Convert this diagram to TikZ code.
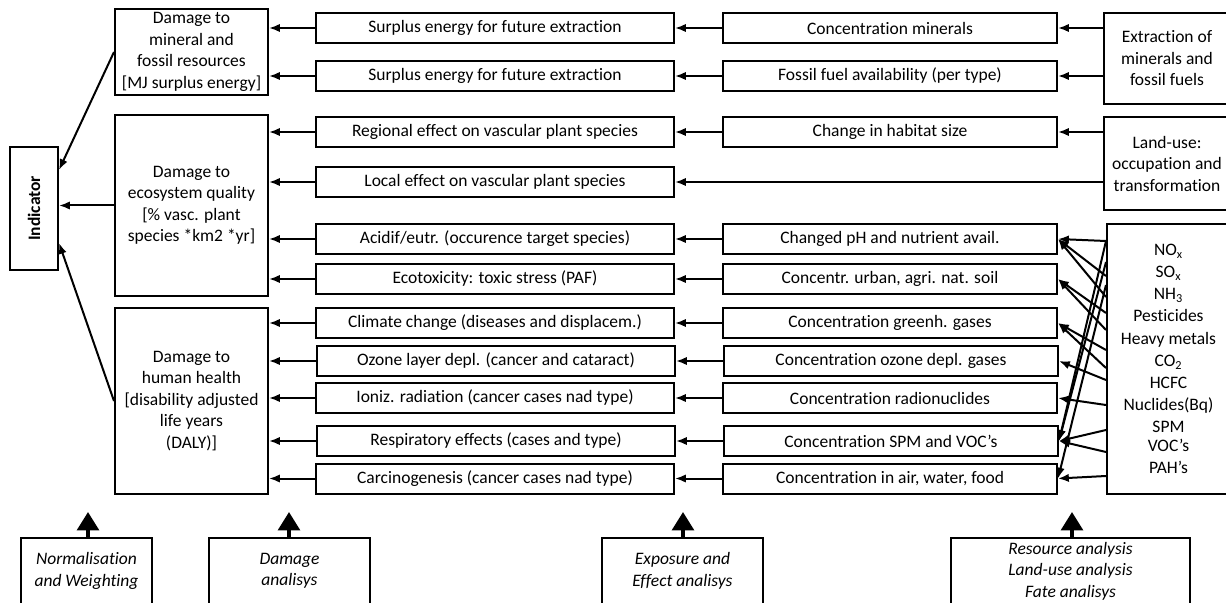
\documentclass[tikz,border=0pt]{standalone}
\usepackage{fontspec}
\setmainfont[Ligatures=NoCommon]{Carlito}
\usetikzlibrary{calc, arrows.meta}
\tikzset{>={Latex[length=6.5pt,width=5pt]}}
\newcommand{\pxu}{0.6pt}
\newcommand{\dfont}{\fontsize{10.5}{12.9}\selectfont}
\tikzset{
  blk/.style={draw, line width=1.2pt, align=center, inner sep=1pt},
  boxdim/.style 2 args={minimum width=#1*\pxu, minimum height=#2*\pxu},
  imp/.style={blk, boxdim={358}{30}},
  cnc/.style={blk, boxdim={334}{30}},
  ana/.style={blk, font=\dfont\itshape},
  lnk/.style={->, line width=1.2pt},
  upar/.style={-{Triangle[width=13pt,length=11pt]}, line width=2.2pt},
}

\begin{document}
\begin{tikzpicture}[x=\pxu, y=-\pxu, font=\dfont]
\useasboundingbox (0,0) rectangle (1226,603);

% indicator and damage categories
\node[blk, boxdim={48}{123}] (ind) at (34,208.5) {};
\node[rotate=90, font=\dfont\bfseries] (indtxt) at (ind) {Indicator};
\node[blk, boxdim={153}{86}] (dmgM) at (191.5,52) {Damage to\\mineral and\\fossil resources\\{}[MJ surplus energy]};
\node[blk, boxdim={153}{181}] (dmgE) at (191.5,205.5) {Damage to\\ecosystem quality\\{}[\% vasc. plant\\species *km2 *yr]};
\node[blk, boxdim={153}{186}] (dmgH) at (191.5,401) {Damage to\\human health\\{}[disability adjusted\\life years\\(DALY)]};

% effects
\node[imp] (s1) at (495,28) {Surplus energy for future extraction};
\node[imp] (s2) at (495,76) {Surplus energy for future extraction};
\node[imp] (s3) at (495,132) {Regional effect on vascular plant species};
\node[imp] (s4) at (495,182) {Local effect on vascular plant species};
\node[imp] (s5) at (495,239) {Acidif/eutr. (occurence target species)};
\node[imp] (s6) at (495,279) {Ecotoxicity: toxic stress (PAF)};
\node[imp] (s7) at (495,323) {Climate change (diseases and displacem.)};
\node[imp] (s8) at (496,361) {Ozone layer depl. (cancer and cataract)};
\node[imp] (s9) at (495,398) {Ioniz. radiation (cancer cases nad type)};
\node[imp] (s10) at (496,441) {Respiratory effects (cases and type)};
\node[imp] (s11) at (495,478.5) {Carcinogenesis (cancer cases nad type)};

% exposure / fate
\node[cnc] (c1) at (890,28) {Concentration minerals};
\node[cnc] (c2) at (890,76) {Fossil fuel availability (per type)};
\node[cnc] (c3) at (890,132) {Change in habitat size};
\node[cnc] (c5) at (890,239) {Changed pH and nutrient avail.};
\node[cnc] (c6) at (890,279) {Concentr. urban, agri. nat. soil};
\node[cnc] (c7) at (890,323) {Concentration greenh. gases};
\node[cnc] (c8) at (891,361) {Concentration ozone depl. gases};
\node[cnc] (c9) at (890,398) {Concentration radionuclides};
\node[cnc] (c10) at (891,441) {Concentration SPM and VOC’s};
\node[cnc] (c11) at (890,478.5) {Concentration in air, water, food};

% sources
\node[blk, boxdim={126}{91}] (ext) at (1167,58.5) {Extraction of\\minerals and\\fossil fuels};
\node[blk, boxdim={126}{93}] (land) at (1167,163.5) {Land-use:\\occupation and\\transformation};
\node[blk, boxdim={123}{270}, font=\fontsize{10.5}{13.3}\selectfont] (emis) at (1168.5,359)
  {NO\textsubscript{x}\\SO\textsubscript{x}\\NH\textsubscript{3}\\Pesticides\\Heavy metals\\CO\textsubscript{2}\\HCFC\\Nuclides(Bq)\\SPM\\[-2pt]VOC’s\\PAH’s};

% analysis steps
\node[ana, boxdim={131}{66}] (nw) at (86.5,571) {Normalisation\\and Weighting};
\node[ana, boxdim={161}{66}] (da) at (289.5,571) {Damage\\analisys};
\node[ana, boxdim={161}{66}] (ea) at (682.5,571) {Exposure and\\Effect analisys};
\node[ana, boxdim={239}{66}] (ra) at (1070.5,571) {Resource analysis\\Land-use analysis\\Fate analisys};
\coordinate (nwtip) at (88,512);
\coordinate (datip) at (289,512);
\coordinate (eatip) at (683,512);
\coordinate (ratip) at (1072,512);

\path[lnk]
(s1.west) edge (dmgM.east |- s1.west)
(s2.west) edge (dmgM.east |- s2.west)
(s3.west) edge (dmgE.east |- s3.west)
(s4.west) edge (dmgE.east |- s4.west)
(s5.west) edge (dmgE.east |- s5.west)
(s6.west) edge (dmgE.east |- s6.west)
(s7.west) edge (dmgH.east |- s7.west)
(s8.west) edge (dmgH.east |- s8.west)
(s9.west) edge (dmgH.east |- s9.west)
(s10.west) edge (dmgH.east |- s10.west)
(s11.west) edge (dmgH.east |- s11.west)
(c1.west) edge (s1.east)
(c2.west) edge (s2.east)
(c3.west) edge (s3.east)
(c5.west) edge (s5.east)
(c6.west) edge (s6.east)
(c7.west) edge (s7.east)
(c8.west) edge (s8.east)
(c9.west) edge (s9.east)
(c10.west) edge (s10.east)
(c11.west) edge (s11.east)
(ext.west |- c1.east) edge (c1.east)
(ext.west |- c2.east) edge (c2.east)
(land.west |- c3.east) edge (c3.east)
(land.west |- s4.east) edge (s4.east)
(dmgM.west) edge (ind.east |- 0,170)
(dmgE.west) edge (ind.east |- dmgE.west)
(dmgH.west) edge (ind.east |- 0,243)
;
% emissions fanning out
\path[lnk]
(emis.west |- 0,241) edge (c5.east)
(emis.west |- 0,276) edge (c5.east)
(emis.west |- 0,297) edge (c5.east)
(emis.west |- 0,313) edge (c6.east)
(emis.west |- 0,330) edge (c6.east)
(emis.west |- 0,350) edge (c7.east)
(emis.west |- 0,368) edge (c7.east)
(emis.west |- 0,380) edge (c8.east)
(emis.west |- 0,405) edge (c9.east)
(emis.west |- 0,430) edge (c10.east)
(emis.west |- 0,452) edge (c10.east)
(emis.west |- 0,241) edge (c10.east)
(emis.west |- 0,262) edge (c10.east)
(emis.west |- 0,285) edge (c11.east)
(emis.west |- 0,476) edge (c11.east)
;
\draw[upar] (nw.north -| nwtip) -- (nwtip);
\draw[upar] (da.north -| datip) -- (datip);
\draw[upar] (ea.north -| eatip) -- (eatip);
\draw[upar] (ra.north -| ratip) -- (ratip);
\end{tikzpicture}
\end{document}
